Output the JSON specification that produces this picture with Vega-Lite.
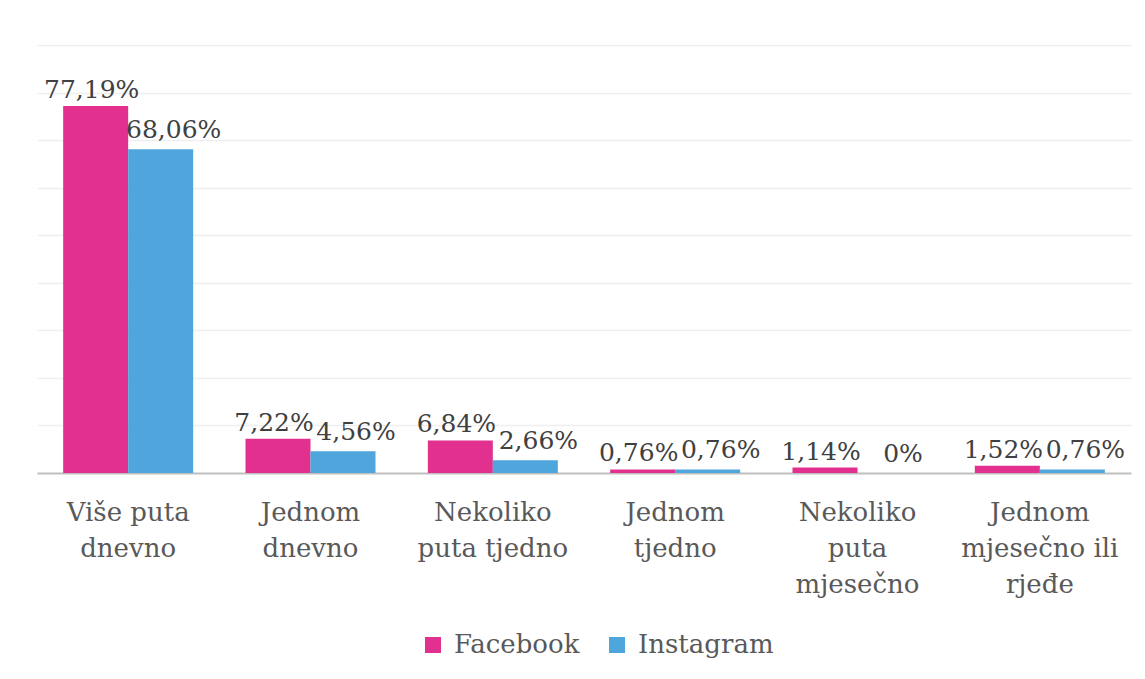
{
  "$schema": "https://vega.github.io/schema/vega-lite/v6.json",
  "width": 1094,
  "height": 428,
  "autosize": {"type": "none"},
  "padding": {"left": 37, "top": 45, "right": 14, "bottom": 206},
  "background": "white",
  "config": {
    "font": "DejaVu Serif",
    "view": {"stroke": null}
  },
  "data": {
    "values": [
      {"category": "Više puta dnevno", "series": "Facebook", "value": 77.19},
      {"category": "Više puta dnevno", "series": "Instagram", "value": 68.06},
      {"category": "Jednom dnevno", "series": "Facebook", "value": 7.22},
      {"category": "Jednom dnevno", "series": "Instagram", "value": 4.56},
      {"category": "Nekoliko puta tjedno", "series": "Facebook", "value": 6.84},
      {"category": "Nekoliko puta tjedno", "series": "Instagram", "value": 2.66},
      {"category": "Jednom tjedno", "series": "Facebook", "value": 0.76},
      {"category": "Jednom tjedno", "series": "Instagram", "value": 0.76},
      {"category": "Nekoliko puta mjesečno", "series": "Facebook", "value": 1.14},
      {"category": "Nekoliko puta mjesečno", "series": "Instagram", "value": 0},
      {"category": "Jednom mjesečno ili rjeđe", "series": "Facebook", "value": 1.52},
      {"category": "Jednom mjesečno ili rjeđe", "series": "Instagram", "value": 0.76}
    ]
  },
  "transform": [
    {"calculate": "datum.value == 0 ? '0%' : replace(format(datum.value, '.2f'), '.', ',') + '%'", "as": "label"}
  ],
  "encoding": {
    "x": {
      "field": "category",
      "type": "nominal",
      "sort": ["Više puta dnevno", "Jednom dnevno", "Nekoliko puta tjedno", "Jednom tjedno", "Nekoliko puta mjesečno", "Jednom mjesečno ili rjeđe"],
      "scale": {"paddingInner": 0.287, "paddingOuter": 0.1435},
      "axis": {
        "title": null,
        "labelAngle": 0,
        "labelFontSize": 26,
        "labelColor": "#595959",
        "labelLineHeight": 36,
        "labelPadding": 26,
        "labelBaseline": "top",
        "labelLimit": 400,
        "ticks": false,
        "domainColor": "#bfbfbf",
        "domainWidth": 2,
        "labelExpr": "datum.value == 'Više puta dnevno' ? ['Više puta', 'dnevno'] : datum.value == 'Jednom dnevno' ? ['Jednom', 'dnevno'] : datum.value == 'Nekoliko puta tjedno' ? ['Nekoliko', 'puta tjedno'] : datum.value == 'Jednom tjedno' ? ['Jednom', 'tjedno'] : datum.value == 'Nekoliko puta mjesečno' ? ['Nekoliko', 'puta', 'mjesečno'] : ['Jednom', 'mjesečno ili', 'rjeđe']"
      }
    },
    "xOffset": {"field": "series", "type": "nominal", "sort": ["Facebook", "Instagram"]},
    "y": {
      "field": "value",
      "type": "quantitative",
      "scale": {"domain": [0, 90], "nice": false},
      "axis": {
        "title": null,
        "labels": false,
        "ticks": false,
        "domain": false,
        "grid": true,
        "gridColor": "#efefef",
        "gridWidth": 1.5,
        "values": [10, 20, 30, 40, 50, 60, 70, 80, 90]
      }
    }
  },
  "layer": [
    {
      "mark": {"type": "bar"},
      "encoding": {
        "color": {
          "field": "series",
          "type": "nominal",
          "scale": {"domain": ["Facebook", "Instagram"], "range": ["#e2308e", "#4fa6dc"]},
          "legend": {
            "title": null,
            "orient": "none",
            "legendX": 383,
            "legendY": 587,
            "direction": "horizontal",
            "padding": 0,
            "symbolType": "square",
            "symbolSize": 256,
            "symbolStrokeWidth": 0,
            "labelFontSize": 26,
            "labelColor": "#595959",
            "labelOffset": 8,
            "columnPadding": 24
          }
        }
      }
    },
    {
      "transform": [{"filter": "datum.series == 'Facebook'"}],
      "mark": {"type": "text", "baseline": "alphabetic", "dy": -8, "dx": -4, "fontSize": 25, "color": "#404040"},
      "encoding": {"text": {"field": "label"}}
    },
    {
      "transform": [{"filter": "datum.series == 'Instagram'"}],
      "mark": {"type": "text", "baseline": "alphabetic", "dy": -11, "dx": 13, "fontSize": 25, "color": "#404040"},
      "encoding": {"text": {"field": "label"}}
    }
  ]
}
